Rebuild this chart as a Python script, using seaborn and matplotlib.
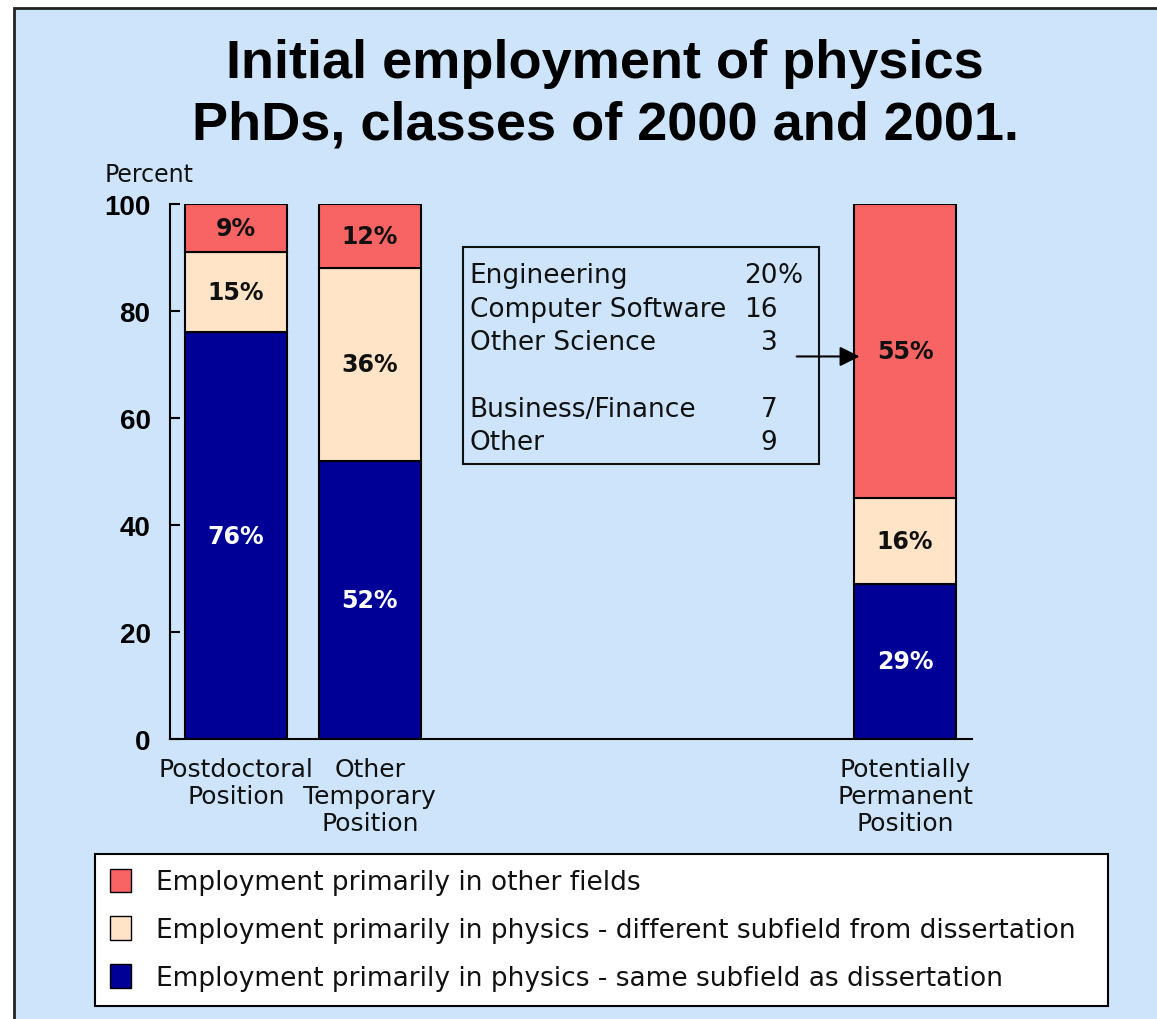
import matplotlib
matplotlib.use("Agg")
import matplotlib.pyplot as plt
import matplotlib.patches as mpatches
import seaborn as sns

# data
positions = [0, 1, 5]
categories = ["Postdoctoral\nPosition", "Other\nTemporary\nPosition", "Potentially\nPermanent\nPosition"]
same_subfield = [76, 52, 29]
diff_subfield = [15, 36, 16]
other_fields = [9, 12, 55]
legend_labels = [
    "Employment primarily in other fields",
    "Employment primarily in physics - different subfield from dissertation",
    "Employment primarily in physics - same subfield as dissertation",
]
inset_fields = ["Engineering", "Computer Software", "Other Science", "", "Business/Finance", "Other"]
inset_values = ["20", "16", "3", "", "7", "9"]

BG = "#cde4fb"
NAVY = "#000096"
PEACH = "#ffe4c8"
RED = "#f86464"

sns.set_style("white")
plt.rcParams["font.family"] = ["DejaVu Sans"]

fig = plt.figure(figsize=(11.57, 10.20), dpi=100)
fig.patch.set_facecolor("white")
# blue panel with border on left and top
fig.patches.append(mpatches.Rectangle((14 / 1157, -0.1), 1.2, 1.1 - 9 / 1020,
                                      transform=fig.transFigure, facecolor=BG,
                                      edgecolor="#222222", linewidth=2, zorder=-10))

ax = fig.add_axes([170 / 1157, 1 - 740 / 1020, (972 - 170) / 1157, (740 - 205) / 1020])
ax.set_facecolor("none")

bottom2 = [a + b for a, b in zip(same_subfield, diff_subfield)]
bar_kw = dict(native_scale=True, width=0.76, saturation=1, edgecolor="black", linewidth=1.5, ax=ax)
sns.barplot(x=positions, y=same_subfield, color=NAVY, **bar_kw)
sns.barplot(x=positions, y=diff_subfield, bottom=same_subfield, color=PEACH, **bar_kw)
sns.barplot(x=positions, y=other_fields, bottom=bottom2, color=RED, **bar_kw)

label_font = dict(fontweight="bold", fontsize=17)
for cont, vals, col in zip(ax.containers, [same_subfield, diff_subfield, other_fields],
                           ["white", "#111111", "#111111"]):
    ax.bar_label(cont, labels=[f"{v}%" for v in vals], label_type="center", color=col, **label_font)

ax.set_xlim(-0.493, 5.5)
ax.set_ylim(0, 100)
ax.set_xticks(positions, categories)
ax.set_yticks([0, 20, 40, 60, 80, 100])
ax.set_xlabel("")
ax.set_ylabel("")
for lab in ax.get_yticklabels():
    lab.set_fontfamily("Liberation Sans")
    lab.set_fontweight("bold")
    lab.set_fontsize(20)
for lab in ax.get_xticklabels():
    lab.set_fontsize(18)
    lab.set_color("#111111")
    lab.set_linespacing(1.15)
ax.tick_params(axis="y", direction="in", length=7, width=1.5, pad=14, colors="black", left=True)
ax.tick_params(axis="x", length=0, pad=13)
sns.despine(ax=ax, top=True, right=True)
for s in ["left", "bottom"]:
    ax.spines[s].set_color("black")
    ax.spines[s].set_linewidth(1.5)

# inset box with breakdown of "other fields"
ax.add_patch(mpatches.Rectangle((1.694, 51.4), 4.358 - 1.694, 92.0 - 51.4,
                                facecolor="none", edgecolor="#111111", linewidth=1.5, zorder=3))
line_y = [86.7, 80.4, 74.2, 68.0, 61.7, 55.5]
for i, (name, val) in enumerate(zip(inset_fields, inset_values)):
    if not name:
        continue
    ax.text(1.746, line_y[i], name, fontsize=19, va="center", ha="left", color="#111111")
    ax.text(4.045, line_y[i], val, fontsize=19, va="center", ha="right", color="#111111")
    if i == 0:
        ax.text(4.045, line_y[i], "%", fontsize=19, va="center", ha="left", color="#111111")
ax.annotate("", xy=(4.66, 71.5), xytext=(4.19, 71.5),
            arrowprops=dict(arrowstyle="-|>", color="black", lw=1.5, mutation_scale=30,
                            shrinkA=0, shrinkB=0))

fig.text(105 / 1157, 1 - 175 / 1020, "Percent", fontsize=17, ha="left", va="center", color="#111111")
fig.text(0.523, 1 - 95 / 1020, "Initial employment of physics\nPhDs, classes of 2000 and 2001.",
         family="Liberation Sans", fontweight="bold", fontsize=39, ha="center", va="center",
         linespacing=1.3, color="black")

handles = [mpatches.Patch(facecolor=c, edgecolor="black", linewidth=1) for c in [RED, PEACH, NAVY]]
leg = fig.legend(handles, legend_labels, loc="upper left",
                 bbox_to_anchor=(95 / 1157, 1 - 855 / 1020, (1108 - 95) / 1157, 0),
                 mode="expand", borderaxespad=0, fontsize=19, frameon=True, fancybox=False,
                 framealpha=1, facecolor="white", edgecolor="black", handlelength=0.8,
                 handleheight=1.0, handletextpad=0.95, labelspacing=0.8, borderpad=0.55)
leg.get_frame().set_linewidth(1.5)
for t in leg.get_texts():
    t.set_color("#111111")

fig.savefig("out.png", dpi=100, facecolor=fig.get_facecolor())
